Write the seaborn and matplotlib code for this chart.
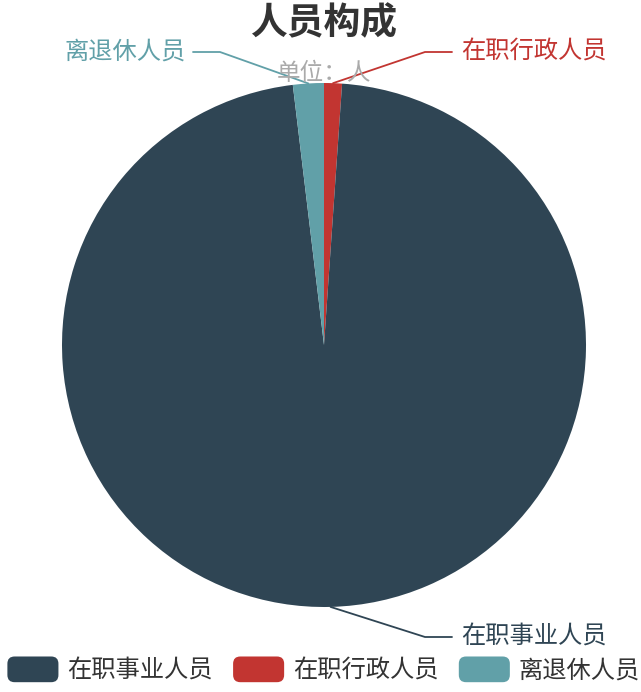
import numpy as np
import matplotlib
matplotlib.use('Agg')
import matplotlib.pyplot as plt
import seaborn as sns
from matplotlib.patches import Patch, FancyBboxPatch
from matplotlib.legend_handler import HandlerPatch

sns.set_theme(style='white')
plt.rcParams['font.family'] = ['Noto Sans CJK SC', 'DejaVu Sans']

# data (percent of total)
names = ['在职事业人员', '在职行政人员', '离退休人员']
values = [97.0, 1.1, 1.9]
colors = ['#2f4554', '#c23531', '#61a0a8']

# drawing order round the pie (clockwise from top): 行政, 事业, 离退休
draw_order = [1, 0, 2]

W, H = 641, 692
fig = plt.figure(figsize=(W / 100, H / 100), dpi=100)
R = 262
cx, cy = 324, 345
ax = fig.add_axes([(cx - R) / W, (H - cy - R) / H, 2 * R / W, 2 * R / H])

def px(x, y):
    return (x - cx) / R, (cy - y) / R

# subtitle first so the pie covers it
fig.text(cx / W, 1 - 73 / H, '单位：人', ha='center', va='center', fontsize=17, color='#aaaaaa', zorder=0)
fig.text(cx / W, 1 - 24 / H, '人员构成', ha='center', va='center', fontsize=26.5, fontweight='bold', color='#333333')

wedges, _ = ax.pie([values[i] for i in draw_order], colors=[colors[i] for i in draw_order],
                   startangle=90, counterclock=False, radius=1,
                   wedgeprops=dict(linewidth=0))
ax.set_aspect('auto')
ax.set_xlim(-1, 1)
ax.set_ylim(-1, 1)
ax.axis('off')

# label layout: elbow point, end of line, text anchor
label_pos = {
    1: (px(425, 52), px(452, 52), px(461, 52), 'left'),
    2: (px(220, 52), px(193, 52), px(186, 52), 'right'),
    0: (px(425, 637), px(452, 637), px(461, 637), 'left'),
}
for w, i in zip(wedges, draw_order):
    mid = np.deg2rad((w.theta1 + w.theta2) / 2)
    sx, sy = np.cos(mid), np.sin(mid)
    (ex, ey), (lx, ly), (tx, ty), ha = label_pos[i]
    ax.plot([sx, ex, lx], [sy, ey, ly], color=colors[i], lw=1.3, clip_on=False, zorder=5)
    ax.text(tx, ty, names[i], ha=ha, va='center', fontsize=17.5, color=colors[i], clip_on=False)


class RoundBox(HandlerPatch):
    def create_artists(self, legend, orig_handle, xdescent, ydescent, width, height, fontsize, trans):
        p = FancyBboxPatch((-xdescent, -ydescent), width, height,
                           boxstyle='round,pad=0,rounding_size=%f' % (height * 0.28),
                           facecolor=orig_handle.get_facecolor(), edgecolor='none', transform=trans)
        return [p]


handles = [Patch(facecolor=c) for c in colors]
fig.legend(handles, names, loc='center', bbox_to_anchor=(0.5 + 3 / W, 1 - 670 / H), ncol=3,
           frameon=False, fontsize=17.5, handlelength=2.1, handleheight=1.25,
           handletextpad=0.35, columnspacing=0.85, labelcolor='#333333',
           handler_map={Patch: RoundBox()})

fig.savefig('out.png', dpi=100)
